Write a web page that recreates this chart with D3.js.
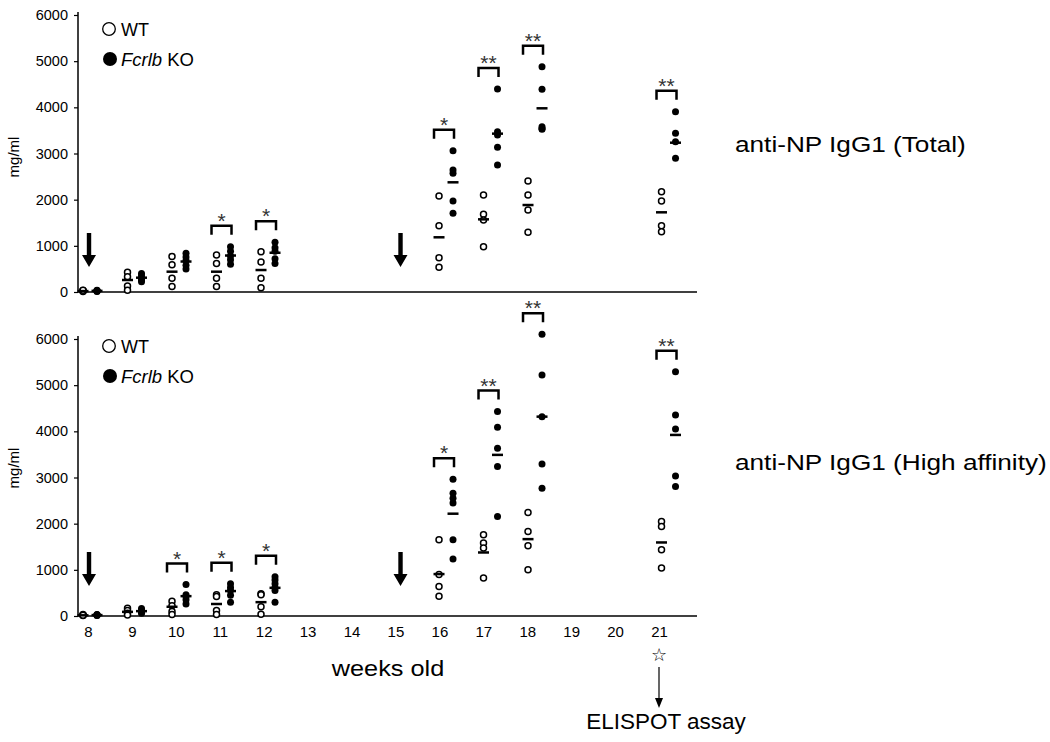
<!DOCTYPE html>
<html>
<head>
<meta charset="utf-8">
<script src="https://cdn.jsdelivr.net/npm/d3@7"></script>
<style>
  html, body { margin: 0; padding: 0; background: #fff; }
  svg { display: block; font-family: "Liberation Sans", Arial, sans-serif; }
</style>
</head>
<body>
<svg id="chart" width="1050" height="742"></svg>
<script>
// ---------------- DATA ----------------
const weeks = [8, 9, 10, 11, 12, 16, 17, 18, 21];
const tickWeeks = [8, 9, 10, 11, 12, 13, 14, 15, 16, 17, 18, 19, 20, 21];
const yTicks = [0, 1000, 2000, 3000, 4000, 5000, 6000];
const arrowWeeks = [8, 15];
const assayWeek = 21;

// anti-NP IgG1 (Total)
const totalWT = [
  [30, 20, 10, 40],
  [430, 330, 130, 40],
  [770, 590, 300, 120],
  [800, 620, 300, 120],
  [870, 650, 300, 90],
  [2079, 1436, 743, 535],
  [2100, 1683, 1560, 981],
  [2404, 2101, 1776, 1293],
  [2172, 1971, 1436, 1306]
];
const totalKO = [
  [40, 20, 30, 10, 20],
  [400, 350, 300, 260, 220],
  [840, 760, 680, 580, 500],
  [980, 880, 780, 700, 600],
  [1080, 960, 880, 720, 620],
  [3060, 2642, 2571, 1971, 1705],
  [4397, 3472, 3400, 3134, 2751],
  [4880, 4390, 3580, 3524, 3540],
  [3905, 3437, 3256, 2896]
];
const totalWTMean = [20, 260, 440, 440, 476, 1185, 1574, 1884, 1726];
const totalKOMean = [25, 310, 660, 790, 850, 2376, 3430, 3979, 3234];
const totalSigWeeks = [11, 12, 16, 17, 18, 21];
const totalSigLabels = ["*", "*", "*", "**", "**", "**"];

// anti-NP IgG1 (High affinity)
const highWT = [
  [20, 10, 30, 15],
  [170, 120, 60, 20],
  [320, 220, 100, 30],
  [460, 420, 120, 30],
  [480, 460, 200, 40],
  [1650, 900, 640, 430],
  [1759, 1579, 1471, 822],
  [2242, 1831, 1521, 1002],
  [2047, 1939, 1435, 1039]
];
const highKO = [
  [30, 20, 10, 25, 15],
  [160, 120, 80, 60],
  [680, 460, 420, 350, 260],
  [700, 620, 550, 450, 300],
  [850, 780, 700, 620, 550, 300],
  [2964, 2661, 2553, 2445, 1650, 1233],
  [4427, 4090, 3635, 3237, 2155],
  [6101, 5221, 4318, 3295, 2769],
  [5292, 4355, 4052, 3035, 2804]
];
const highWTMean = [15, 90, 200, 260, 300, 908, 1376, 1665, 1593];
const highKOMean = [20, 105, 430, 540, 610, 2216, 3490, 4318, 3922];
const highSigWeeks = [10, 11, 12, 16, 17, 18, 21];
const highSigLabels = ["*", "*", "*", "*", "**", "**", "**"];

const titles = ["anti-NP IgG1 (Total)", "anti-NP IgG1 (High affinity)"];
const legendLabels = ["WT", "KO"];
const geneName = "Fcrlb";

// ---------------- LAYOUT ----------------
const svg = d3.select("#chart");
const x = d3.scaleLinear().domain([7.82, 21.73]).range([78, 697]);      // data marks
const xLab = d3.scaleLinear().domain([8, 21]).range([88, 659]);          // week labels
const WT_OFF = -3, KO_OFF = 11;

const panels = [
  { y: d3.scaleLinear().domain([0, 6000]).range([292, 15]),
    wt: totalWT, ko: totalKO, wtMean: totalWTMean, koMean: totalKOMean,
    sigW: totalSigWeeks, sigL: totalSigLabels, title: titles[0], titleY: 152,
    labels: false, legendY: 29, ylabY: 157, arrowTip: 25 },
  { y: d3.scaleLinear().domain([0, 6000]).range([616, 339]),
    wt: highWT, ko: highKO, wtMean: highWTMean, koMean: highKOMean,
    sigW: highSigWeeks, sigL: highSigLabels, title: titles[1], titleY: 470,
    labels: true, legendY: 346, ylabY: 468, arrowTip: 30 }
];

panels.forEach(p => {
  const g = svg.append("g");
  const y = p.y;
  const y0 = y(0);

  // y axis
  const ya = g.append("g").attr("transform", "translate(78,0)")
    .call(d3.axisLeft(y).tickValues(yTicks).tickFormat(d3.format("d"))
      .tickSize(4).tickSizeOuter(0).tickPadding(6));
  ya.select(".domain").attr("stroke", "#000").attr("stroke-width", 1.5)
    .attr("d", `M0,${y(6000) - 3}V${y0}`);
  ya.selectAll(".tick line").attr("stroke", "#000").attr("stroke-width", 1.2);
  ya.selectAll(".tick text").attr("font-size", 14.5).attr("fill", "#000")
    .attr("font-family", "Liberation Sans, Arial, sans-serif");

  // x axis line
  g.append("line").attr("x1", x.range()[0]).attr("x2", x.range()[1])
    .attr("y1", y0).attr("y2", y0).attr("stroke", "#000").attr("stroke-width", 1.5);
  // week labels (bottom panel only)
  if (p.labels) {
    const xa = g.append("g").attr("transform", `translate(0,${y0})`)
      .call(d3.axisBottom(xLab).tickValues(tickWeeks).tickSize(0).tickPadding(10));
    xa.select(".domain").remove();
    xa.selectAll(".tick text").attr("font-size", 15).attr("fill", "#000")
      .attr("font-family", "Liberation Sans, Arial, sans-serif");
  }

  // y axis title
  g.append("text").attr("transform", `translate(19,${p.ylabY}) rotate(-90)`)
    .attr("text-anchor", "middle").attr("font-size", 15).text("mg/ml");

  // arrows (immunization)
  arrowWeeks.forEach(w => {
    const ax = x(w) + 3, tip = y0 - p.arrowTip, top = tip - 34;
    g.append("path")
      .attr("d", `M${ax - 2.2},${top}H${ax + 2.2}V${tip - 12}H${ax + 7}L${ax},${tip}L${ax - 7},${tip - 12}H${ax - 2.2}Z`)
      .attr("fill", "#000");
  });

  // data points
  const wtPts = [], koPts = [];
  weeks.forEach((w, i) => {
    p.wt[i].forEach(v => wtPts.push({ w, v }));
    p.ko[i].forEach(v => koPts.push({ w, v }));
  });
  g.append("g").selectAll("circle").data(wtPts).join("circle")
    .attr("cx", d => x(d.w) + WT_OFF).attr("cy", d => y(d.v)).attr("r", 3)
    .attr("fill", "#fff").attr("stroke", "#000").attr("stroke-width", 1.5);
  g.append("g").selectAll("circle").data(koPts).join("circle")
    .attr("cx", d => x(d.w) + KO_OFF).attr("cy", d => y(d.v)).attr("r", 3.5)
    .attr("fill", "#000");

  // means
  g.append("g").selectAll("line").data(weeks.map((w, i) => ({ w, v: p.wtMean[i] })))
    .join("line")
    .attr("x1", d => x(d.w) + WT_OFF - 5.5).attr("x2", d => x(d.w) + WT_OFF + 5.5)
    .attr("y1", d => y(d.v)).attr("y2", d => y(d.v))
    .attr("stroke", "#000").attr("stroke-width", 2.5);
  g.append("g").selectAll("line").data(weeks.map((w, i) => ({ w, v: p.koMean[i] })))
    .join("line")
    .attr("x1", d => x(d.w) + KO_OFF - 5.5).attr("x2", d => x(d.w) + KO_OFF + 5.5)
    .attr("y1", d => y(d.v)).attr("y2", d => y(d.v))
    .attr("stroke", "#000").attr("stroke-width", 2.5);

  // significance brackets
  p.sigW.forEach((w, k) => {
    const i = weeks.indexOf(w);
    const mx = d3.max(p.ko[i]);
    const bottom = y(mx) - 12, top = bottom - 9;
    const cx = x(w) + (WT_OFF + KO_OFF) / 2 - 2;
    g.append("path")
      .attr("d", `M${cx - 10},${bottom}V${top}H${cx + 10}V${bottom}`)
      .attr("fill", "none").attr("stroke", "#000").attr("stroke-width", 2.5);
    g.append("text").attr("x", cx).attr("y", top + 2)
      .attr("text-anchor", "middle").attr("font-size", 21).attr("fill", "#333")
      .text(p.sigL[k]);
  });

  // legend
  const lx = 109;
  g.append("circle").attr("cx", lx).attr("cy", p.legendY).attr("r", 6.3)
    .attr("fill", "#fff").attr("stroke", "#000").attr("stroke-width", 1.3);
  g.append("text").attr("x", lx + 12).attr("y", p.legendY + 6.5)
    .attr("font-size", 18).text(legendLabels[0]);
  g.append("circle").attr("cx", lx + 1).attr("cy", p.legendY + 30).attr("r", 7)
    .attr("fill", "#000");
  const t2 = g.append("text").attr("x", lx + 12).attr("y", p.legendY + 36.5)
    .attr("font-size", 18.5);
  t2.append("tspan").attr("font-style", "italic").text(geneName);
  t2.append("tspan").text(" " + legendLabels[1]);

  // panel title
  g.append("text").attr("transform", `translate(735,${p.titleY}) scale(1.19,1)`)
    .attr("font-size", 22).text(p.title);
});

// x-axis title
svg.append("text").attr("transform", "translate(388,676) scale(1.15,1)")
  .attr("text-anchor", "middle").attr("font-size", 22).text("weeks old");

// ELISPOT annotation
const ex = xLab(assayWeek);
svg.append("text").attr("x", ex).attr("y", 661).attr("text-anchor", "middle")
  .attr("font-size", 18).attr("font-family", "DejaVu Sans").attr("fill", "#000")
  .text("\u2606");
svg.append("line").attr("x1", ex).attr("x2", ex).attr("y1", 667).attr("y2", 700)
  .attr("stroke", "#000").attr("stroke-width", 1.2);
svg.append("path").attr("d", `M${ex - 4},${698}L${ex + 4},${698}L${ex},${708}Z`).attr("fill", "#000");
svg.append("text").attr("x", ex + 7).attr("y", 729).attr("text-anchor", "middle")
  .attr("font-size", 22.5).text("ELISPOT assay");
</script>
</body>
</html>
